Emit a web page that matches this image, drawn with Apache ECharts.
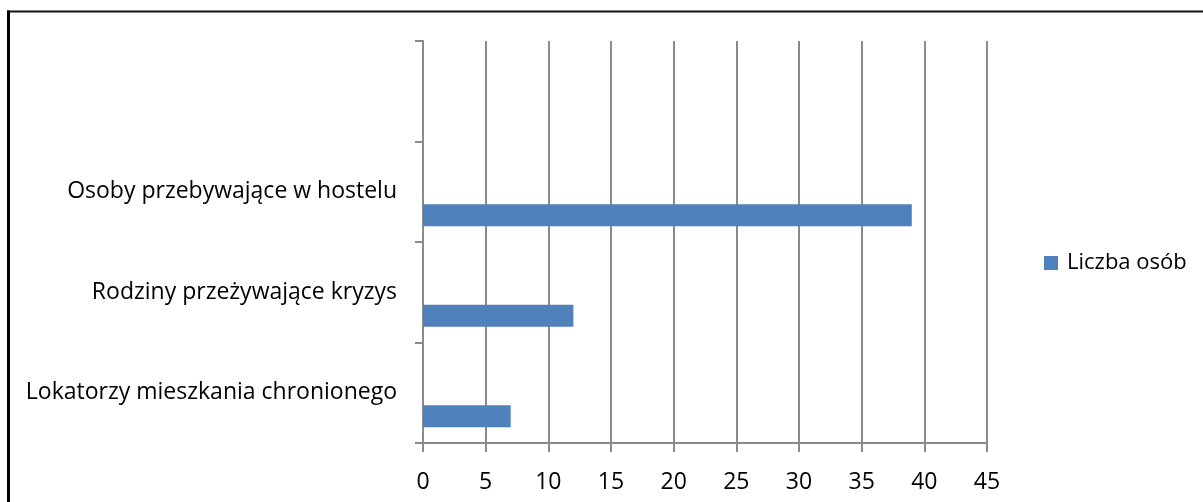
<!DOCTYPE html>
<html>
<head>
<meta charset="utf-8">
<script src="https://cdn.jsdelivr.net/npm/echarts@6/dist/echarts.min.js"></script>
<style>
html,body{margin:0;padding:0;background:#fff;}
#chart{width:1203px;height:502px;}
</style>
</head>
<body>
<div id="chart"></div>
<script>
// Data (bottom to top on the category axis)
const categories = ['Lokatorzy mieszkania chronionego', 'Rodziny przeżywające kryzys', 'Osoby przebywające w hostelu', ''];
const values = [7, 12, 39, null];
const seriesName = 'Liczba osób';
const xMin = 0, xMax = 45, xStep = 5;

const FONT = 'Open Sans';
const FS = 23;
const GRID = '#8a8a8a';

const chart = echarts.init(document.getElementById('chart'), null, {renderer: 'canvas'});
chart.setOption({
  animation: false,
  backgroundColor: '#ffffff',
  textStyle: {fontFamily: FONT},
  grid: {left: 423, right: 216, top: 41, bottom: 59, containLabel: false},
  legend: {
    data: [seriesName],
    left: 1044, top: 252,
    icon: 'rect', itemWidth: 14, itemHeight: 14, itemGap: 10, padding: 0,
    textStyle: {fontFamily: FONT, fontSize: 22, color: '#000', padding: [0, 0, 0, 4]}
  },
  xAxis: {
    type: 'value', min: xMin, max: xMax, interval: xStep,
    axisLine: {show: true, lineStyle: {color: GRID, width: 2}},
    axisTick: {show: true, length: 9, lineStyle: {color: GRID, width: 2}},
    splitLine: {show: true, lineStyle: {color: GRID, width: 2}},
    axisLabel: {fontFamily: FONT, fontSize: FS, color: '#000', margin: 28}
  },
  yAxis: {
    type: 'category', data: categories,
    axisLine: {show: true, lineStyle: {color: GRID, width: 2}},
    axisTick: {show: true, length: 8, lineStyle: {color: GRID, width: 2}},
    axisLabel: {fontFamily: FONT, fontSize: FS, color: '#000', margin: 26, padding: [4, 0, 0, 0]}
  },
  series: [
    {name: '_', type: 'bar', data: values.map(() => null), barWidth: 22, barGap: '114%'},
    {name: seriesName, type: 'bar', data: values, barWidth: 22, barGap: '114%',
     itemStyle: {color: '#4F81BD'}}
  ],
  graphic: [
    {type: 'line', shape: {x1: 7, y1: 11.5, x2: 1203, y2: 11.5}, style: {stroke: '#111', lineWidth: 2}},
    {type: 'line', shape: {x1: 8.5, y1: 10.5, x2: 8.5, y2: 502}, style: {stroke: '#000', lineWidth: 3}}
  ]
});
</script>
</body>
</html>
